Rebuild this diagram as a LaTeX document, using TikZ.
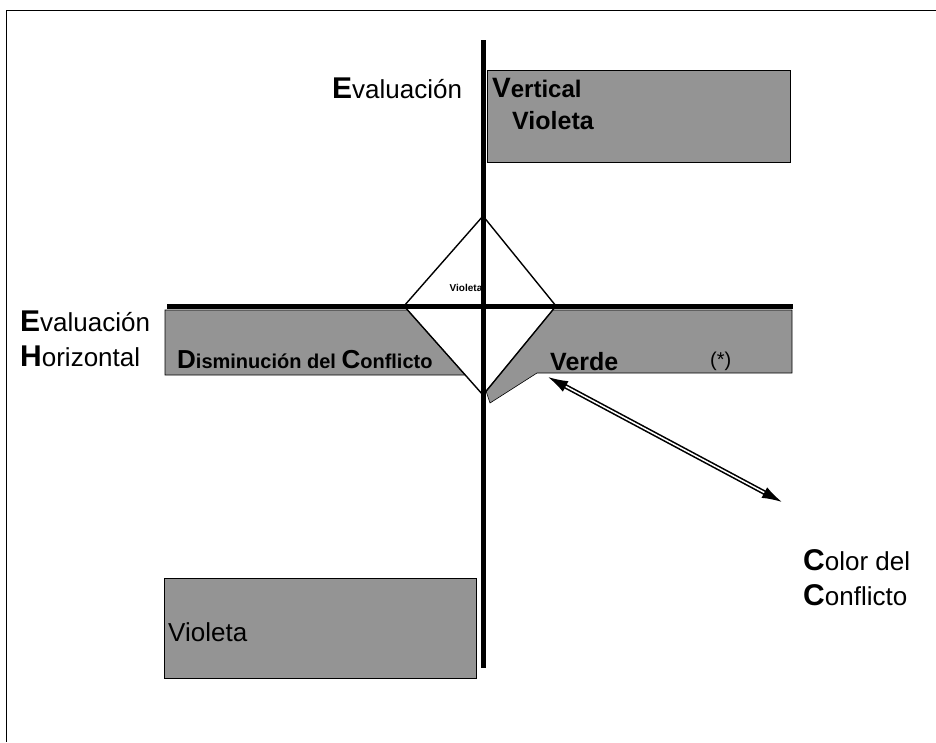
\documentclass[tikz,border=0pt]{standalone}
\usepackage{fontspec}
\setmainfont{Liberation Sans}
\usepackage{tikz}
\usetikzlibrary{arrows.meta,positioning,calc}

\newcommand{\inicial}[2][30]{{\fontsize{#1}{#1}\selectfont\bfseries #2}}

\begin{document}
\begin{tikzpicture}[
    x=1pt, y=-1pt,
    label/.style={inner sep=0pt, anchor=base west, font=\fontsize{26}{35}\selectfont, align=left},
    boxlabel/.style={inner sep=0pt, anchor=base west, font=\fontsize{22}{22}\selectfont\bfseries},
    band/.style={fill=black!42, draw=black, line width=0.6pt},
    eje/.style={line width=5pt},
    rombo/.style={line width=1.4pt, line join=miter},
    dblarrow/.style={{Latex[length=20pt,width=12pt]}-{Latex[length=20pt,width=12pt]}, line width=1.6pt, double, double distance=1.5pt}
]
    \useasboundingbox (0,0) rectangle (936,742);

    % Frame
    \draw[line width=1pt] (936,10) -- (6,10) -- (6,742);

    % Diamond corners
    \coordinate (dtop) at (483,216);
    \coordinate (dleft) at (404,306);
    \coordinate (dright) at (556,306);
    \coordinate (dbot) at (483,395);

    % Grey bands
    \draw[band] (487,70) rectangle (790,162);
    \draw[band] (165,310) -- (407.6,310) -- (465.2,375) -- (165,375) -- cycle;
    \draw[band] (552.7,310) -- (792,310) -- (792,373) -- (537,373) -- (490,403) -- (486,391) -- cycle;
    \draw[band] (164,578) rectangle (476,678);

    % Diamond
    \draw[rombo] (dtop) -- (dright) -- (dbot) -- (dleft) -- cycle;

    % Axes
    \coordinate (vtop) at (483,40);
    \coordinate (vbot) at (483,668);
    \coordinate (hleft) at (167,306);
    \coordinate (hright) at (793,306);
    \draw[eje] (vtop) -- (vbot);
    \draw[eje] (hleft) -- (hright);

    % Labels (base = last line)
    \node[label] (evalv) at (332,98) {\inicial{E}valuación};
    \node[label] (evalh) at (20,366) {\inicial{E}valuación\\\inicial{H}orizontal};
    \node[label] (color) at (803,605) {\inicial{C}olor del\\\inicial{C}onflicto};

    % Labels in the bands
    \node[boxlabel, font=\fontsize{24}{24}\selectfont\bfseries] (vertical) at (492,97) {\inicial[28]{V}ertical};
    \node[boxlabel, font=\fontsize{25}{25}\selectfont\bfseries] (violsup) at (512,129) {Violeta};
    \node[boxlabel, font=\fontsize{20}{20}\selectfont\bfseries] (dismin) at (177,368) {\inicial[26]{D}isminución del \inicial[26]{C}onflicto};
    \node[boxlabel, font=\fontsize{25}{25}\selectfont\bfseries] (verde) at (550,370) {Verde};
    \node[boxlabel, font=\fontsize{20}{20}\selectfont] (ast) at (710,366) {(*)};
    \node[boxlabel, font=\fontsize{26}{26}\selectfont] (violinf) at (168,641) {Violeta};
    \node[font=\fontsize{10}{10}\selectfont\bfseries, inner sep=0pt] (violrombo) at (466,288) {Violeta};

    % Arrow
    \coordinate (verdetip) at (548,377);
    \coordinate (colortip) at (782,502);
    \draw[dblarrow] (verdetip) -- (colortip);
\end{tikzpicture}
\end{document}
